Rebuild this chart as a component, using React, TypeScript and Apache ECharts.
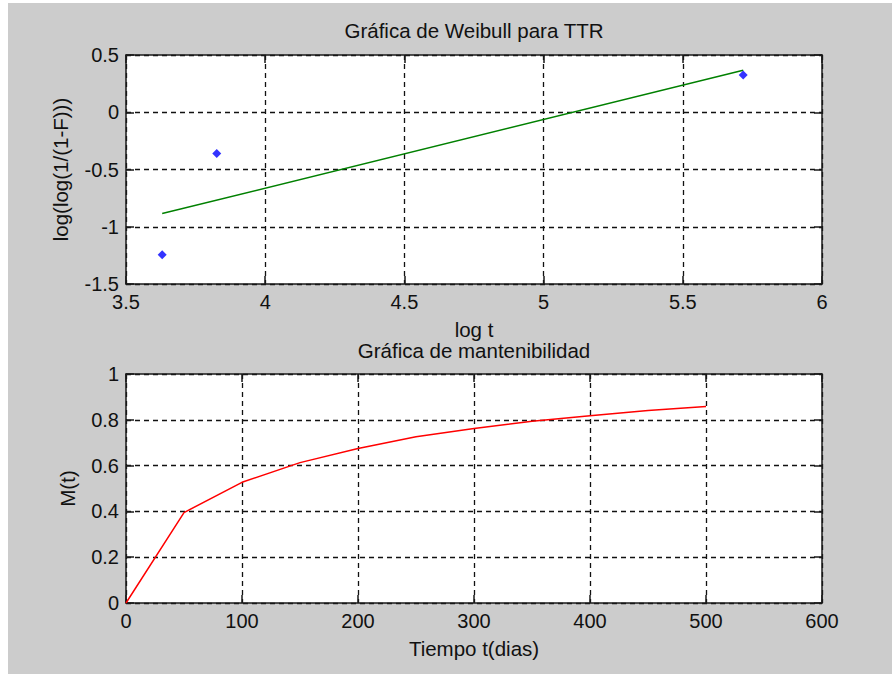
import React, { useEffect, useRef } from "react";
import * as echarts from "echarts";

// Weibull plot data (log t vs log(log(1/(1-F))))
const weibullLogT = [3.63, 3.826, 5.717];
const weibullLogLog = [-1.245, -0.36, 0.325];
// fitted straight line end points
const fitLogT = [3.63, 5.717];
const fitLogLog = [-0.885, 0.366];

// Maintainability curve
const tiempoDias = [0, 50, 100, 150, 200, 250, 300, 350, 400, 450, 500];
const mantenibilidad = [0, 0.395, 0.527, 0.613, 0.675, 0.726, 0.762, 0.794, 0.818, 0.841, 0.858];

const titleTop = "Gráfica de Weibull para TTR";
const xNameTop = "log t";
const yNameTop = "log(log(1/(1-F)))";
const titleBottom = "Gráfica de mantenibilidad";
const xNameBottom = "Tiempo t(dias)";
const yNameBottom = "M(t)";

const FONT = "'Liberation Sans', Arial, sans-serif";
const TICK_FS = 20;
const TXT_FS = 20.5;

function mkAxis(
  kind: "x" | "y",
  gridIndex: number,
  min: number,
  max: number,
  interval: number,
  primary: boolean
) {
  return {
    type: "value",
    gridIndex,
    min,
    max,
    interval,
    position: kind === "x" ? (primary ? "bottom" : "top") : primary ? "left" : "right",
    axisLine: { show: true, onZero: false, lineStyle: { color: "#1a1a1a", width: 1.5 } },
    axisTick: { show: true, inside: true, length: 8, lineStyle: { color: "#1a1a1a", width: 1.5 } },
    axisLabel: {
      show: primary,
      color: "#111",
      fontFamily: FONT,
      fontSize: TICK_FS,
      margin: kind === "x" ? 8 : 7,
    },
    splitLine: primary
      ? { show: true, lineStyle: { color: "#111", width: 1.3, type: [5, 4] } }
      : { show: false },
  };
}

export default function App() {
  const ref = useRef<HTMLDivElement>(null);
  useEffect(() => {
    document.body.style.margin = "0";
    if (!ref.current) return;
    const chart = echarts.init(ref.current, undefined, { renderer: "svg" });
    const L = 126;
    const W = 696;
    const H = 229;
    const T1 = 55;
    const T2 = 374;
    const cx = L + W / 2;
    const txt = (text: string, x: number, y: number, rotation = 0) => ({
      type: "text",
      x,
      y,
      rotation,
      style: {
        text,
        fill: "#111",
        font: `${TXT_FS}px ${FONT}`,
        textAlign: "center",
        textVerticalAlign: "middle",
      },
      z: 10,
    });
    chart.setOption({
      animation: false,
      backgroundColor: "#ffffff",
      grid: [
        { left: L, top: T1, width: W, height: H, show: true, backgroundColor: "#ffffff", borderWidth: 0 },
        { left: L, top: T2, width: W, height: H, show: true, backgroundColor: "#ffffff", borderWidth: 0 },
      ],
      xAxis: [
        mkAxis("x", 0, 3.5, 6, 0.5, true),
        mkAxis("x", 0, 3.5, 6, 0.5, false),
        mkAxis("x", 1, 0, 600, 100, true),
        mkAxis("x", 1, 0, 600, 100, false),
      ],
      yAxis: [
        mkAxis("y", 0, -1.5, 0.5, 0.5, true),
        mkAxis("y", 0, -1.5, 0.5, 0.5, false),
        mkAxis("y", 1, 0, 1, 0.2, true),
        mkAxis("y", 1, 0, 1, 0.2, false),
      ],
      graphic: [
        {
          type: "rect",
          shape: { x: 8, y: 3, width: 892 - 8, height: 674 - 3 },
          style: { fill: "#cccccc" },
          z: -10,
          silent: true,
        },
        txt(titleTop, cx, 30),
        txt(xNameTop, cx, 329),
        txt(titleBottom, cx, 350),
        txt(xNameBottom, cx, 648),
        txt(yNameTop, 60, T1 + H / 2, Math.PI / 2),
        txt(yNameBottom, 67, T2 + H / 2, Math.PI / 2),
      ],
      series: [
        {
          type: "line",
          xAxisIndex: 0,
          yAxisIndex: 0,
          data: fitLogT.map((x, i) => [x, fitLogLog[i]]),
          showSymbol: false,
          lineStyle: { color: "#008000", width: 1.5 },
          z: 3,
        },
        {
          type: "scatter",
          xAxisIndex: 0,
          yAxisIndex: 0,
          data: weibullLogT.map((x, i) => [x, weibullLogLog[i]]),
          symbol: "diamond",
          symbolSize: 9,
          itemStyle: { color: "#0000ff" },
          z: 4,
        },
        {
          type: "line",
          xAxisIndex: 2,
          yAxisIndex: 2,
          data: tiempoDias.map((t, i) => [t, mantenibilidad[i]]),
          showSymbol: false,
          lineStyle: { color: "#ff0000", width: 1.5 },
          z: 3,
        },
      ],
    });
    return () => chart.dispose();
  }, []);
  return <div ref={ref} style={{ width: 892, height: 674 }} />;
}
